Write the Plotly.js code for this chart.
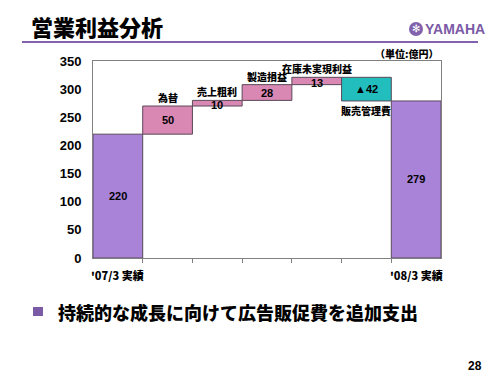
<!DOCTYPE html>
<html><head><meta charset="utf-8">
<script src="https://cdn.plot.ly/plotly-3.0.1.min.js"></script>
<style>html,body{margin:0;padding:0;background:#fff;}#chart{width:500px;height:375px;}</style>
</head><body><div id="chart"></div>
<script>
const categories = ["'07/3 実績", "為替", "売上粗利", "製造損益", "在庫未実現利益", "販売管理費", "'08/3 実績"];
const changes = [220, 50, 10, 28, 13, -42, 279];
const measures = ["total", "up", "up", "up", "up", "down", "total"];
const valueLabels = ["220", "50", "10", "28", "13", "▲42", "279"];
const yTicks = [0, 50, 100, 150, 200, 250, 300, 350];

const FONT = "Liberation Sans, Arial, Noto Sans CJK JP, sans-serif";
const JFONT = "Noto Sans CJK JP, Liberation Sans, sans-serif";
const colors = {total: "#a883d8", up: "#d987b3", down: "#22bdbd"};

// compute floating bar bases from the running total
const xs = [], bases = [], heights = [], fills = [];
let running = 0;
categories.forEach((c, i) => {
  xs.push(i);
  const m = measures[i], v = changes[i];
  if (m === "total") { bases.push(0); heights.push(v); running = v; }
  else if (v >= 0) { bases.push(running); heights.push(v); running += v; }
  else { bases.push(running + v); heights.push(-v); running += v; }
  fills.push(colors[m]);
});

const trace = {
  type: "bar", x: xs, y: heights, base: bases, width: 1,
  marker: {color: fills, line: {color: "#5a4a5a", width: 1}},
  hoverinfo: "skip", showlegend: false
};

const annotations = [];
// value labels
xs.forEach((x, i) => {
  annotations.push({x: x, y: bases[i] + heights[i] / 2, xref: "x", yref: "y",
    text: valueLabels[i], showarrow: false,
    font: {family: FONT, size: 11, color: "#000", weight: "bold"}, yshift: (heights[i] < 15 ? -2 : 0)});
});
// category names for the floating bars
xs.forEach((x, i) => {
  if (measures[i] === "total") {
    annotations.push({x: x, y: -0.086, xref: "x", yref: "paper", text: categories[i],
      showarrow: false, yanchor: "middle", font: {family: JFONT, size: 11, color: "#000", weight: 900}});
  } else if (measures[i] === "up") {
    annotations.push({x: x, y: bases[i] + heights[i], xref: "x", yref: "y", text: categories[i],
      showarrow: false, yanchor: "bottom", yshift: -1, font: {family: JFONT, size: 10, color: "#000", weight: 900}});
  } else {
    annotations.push({x: x, y: bases[i], xref: "x", yref: "y", text: categories[i],
      showarrow: false, yanchor: "top", yshift: 0, font: {family: JFONT, size: 10, color: "#000", weight: 900}});
  }
});
// unit
annotations.push({x: 1.0, y: (258 - 53) / 197, xref: "paper", yref: "paper", xanchor: "right", yanchor: "middle",
  text: "（単位:億円）", showarrow: false, font: {family: JFONT, size: 10, color: "#000", weight: 900}});
// logo text
annotations.push({x: (423 - 93) / 348, y: (258 - 29) / 197, xref: "paper", yref: "paper", xanchor: "left", yanchor: "middle",
  text: "YAMAHA", showarrow: false, font: {family: "Liberation Sans Narrow, Liberation Sans, sans-serif", size: 14, color: "#7b5aa6", weight: "bold"}});
annotations.push({x: (416 - 93) / 348, y: (258 - 29) / 197, xref: "paper", yref: "paper", xanchor: "center", yanchor: "middle",
  text: "✻", showarrow: false, font: {family: "DejaVu Sans", size: 10, color: "#fff", weight: "bold"}});
// bullet text
annotations.push({x: (56 - 93) / 348, y: (258 - 312) / 197, xref: "paper", yref: "paper", xanchor: "left", yanchor: "middle",
  text: "持続的な成長に向けて広告販促費を追加支出", showarrow: false, font: {family: JFONT, size: 18, color: "#000", weight: 900}});
// page number
annotations.push({x: (484 - 93) / 348, y: (258 - 366) / 197, xref: "paper", yref: "paper", xanchor: "right", yanchor: "middle",
  text: "28", showarrow: false, font: {family: FONT, size: 12, color: "#000", weight: "bold"}});

const shapes = [
  {type: "line", xref: "paper", yref: "paper", x0: (22 - 93) / 348, x1: (478 - 93) / 348,
    y0: (258 - 42) / 197, y1: (258 - 42) / 197, line: {color: "#8262ad", width: 2}},
  {type: "circle", xref: "paper", yref: "paper", x0: (409 - 93) / 348, x1: (423 - 93) / 348,
    y0: (258 - 36) / 197, y1: (258 - 22) / 197, fillcolor: "#8262ad", line: {width: 0}},
  {type: "rect", xref: "paper", yref: "paper", x0: (33 - 93) / 348, x1: (43 - 93) / 348,
    y0: (258 - 316) / 197, y1: (258 - 307) / 197, fillcolor: "#7b5aa6", line: {width: 0}}
];

const layout = {
  width: 500, height: 375, autosize: false,
  margin: {l: 93, r: 59, t: 61, b: 117, pad: 0},
  paper_bgcolor: "#fff", plot_bgcolor: "#fff",
  font: {family: FONT, color: "#000"},
  title: {text: "営業利益分析", x: 31 / 500, xanchor: "left", y: 1 - 28 / 375, yanchor: "middle",
    font: {family: JFONT, size: 22, color: "#000", weight: 900}},
  xaxis: {range: [-0.5, 6.5], tickvals: [0.5, 1.5, 2.5, 3.5, 4.5, 5.5], showticklabels: false,
    ticks: "outside", ticklen: 4, tickcolor: "#808080", showline: true, linecolor: "#808080", linewidth: 1,
    mirror: true, showgrid: false, zeroline: false, fixedrange: true},
  yaxis: {range: [0, 350], tickvals: yTicks, ticktext: yTicks.map(String), ticks: "", showline: true,
    linecolor: "#808080", linewidth: 1, mirror: true, showgrid: false, zeroline: false,
    tickfont: {family: FONT, size: 13, color: "#000", weight: "bold"}, ticklabelstandoff: 8, fixedrange: true},
  annotations: annotations, shapes: shapes, bargap: 0
};

Plotly.newPlot("chart", [trace], layout, {staticPlot: true, displayModeBar: false});
</script></body></html>
